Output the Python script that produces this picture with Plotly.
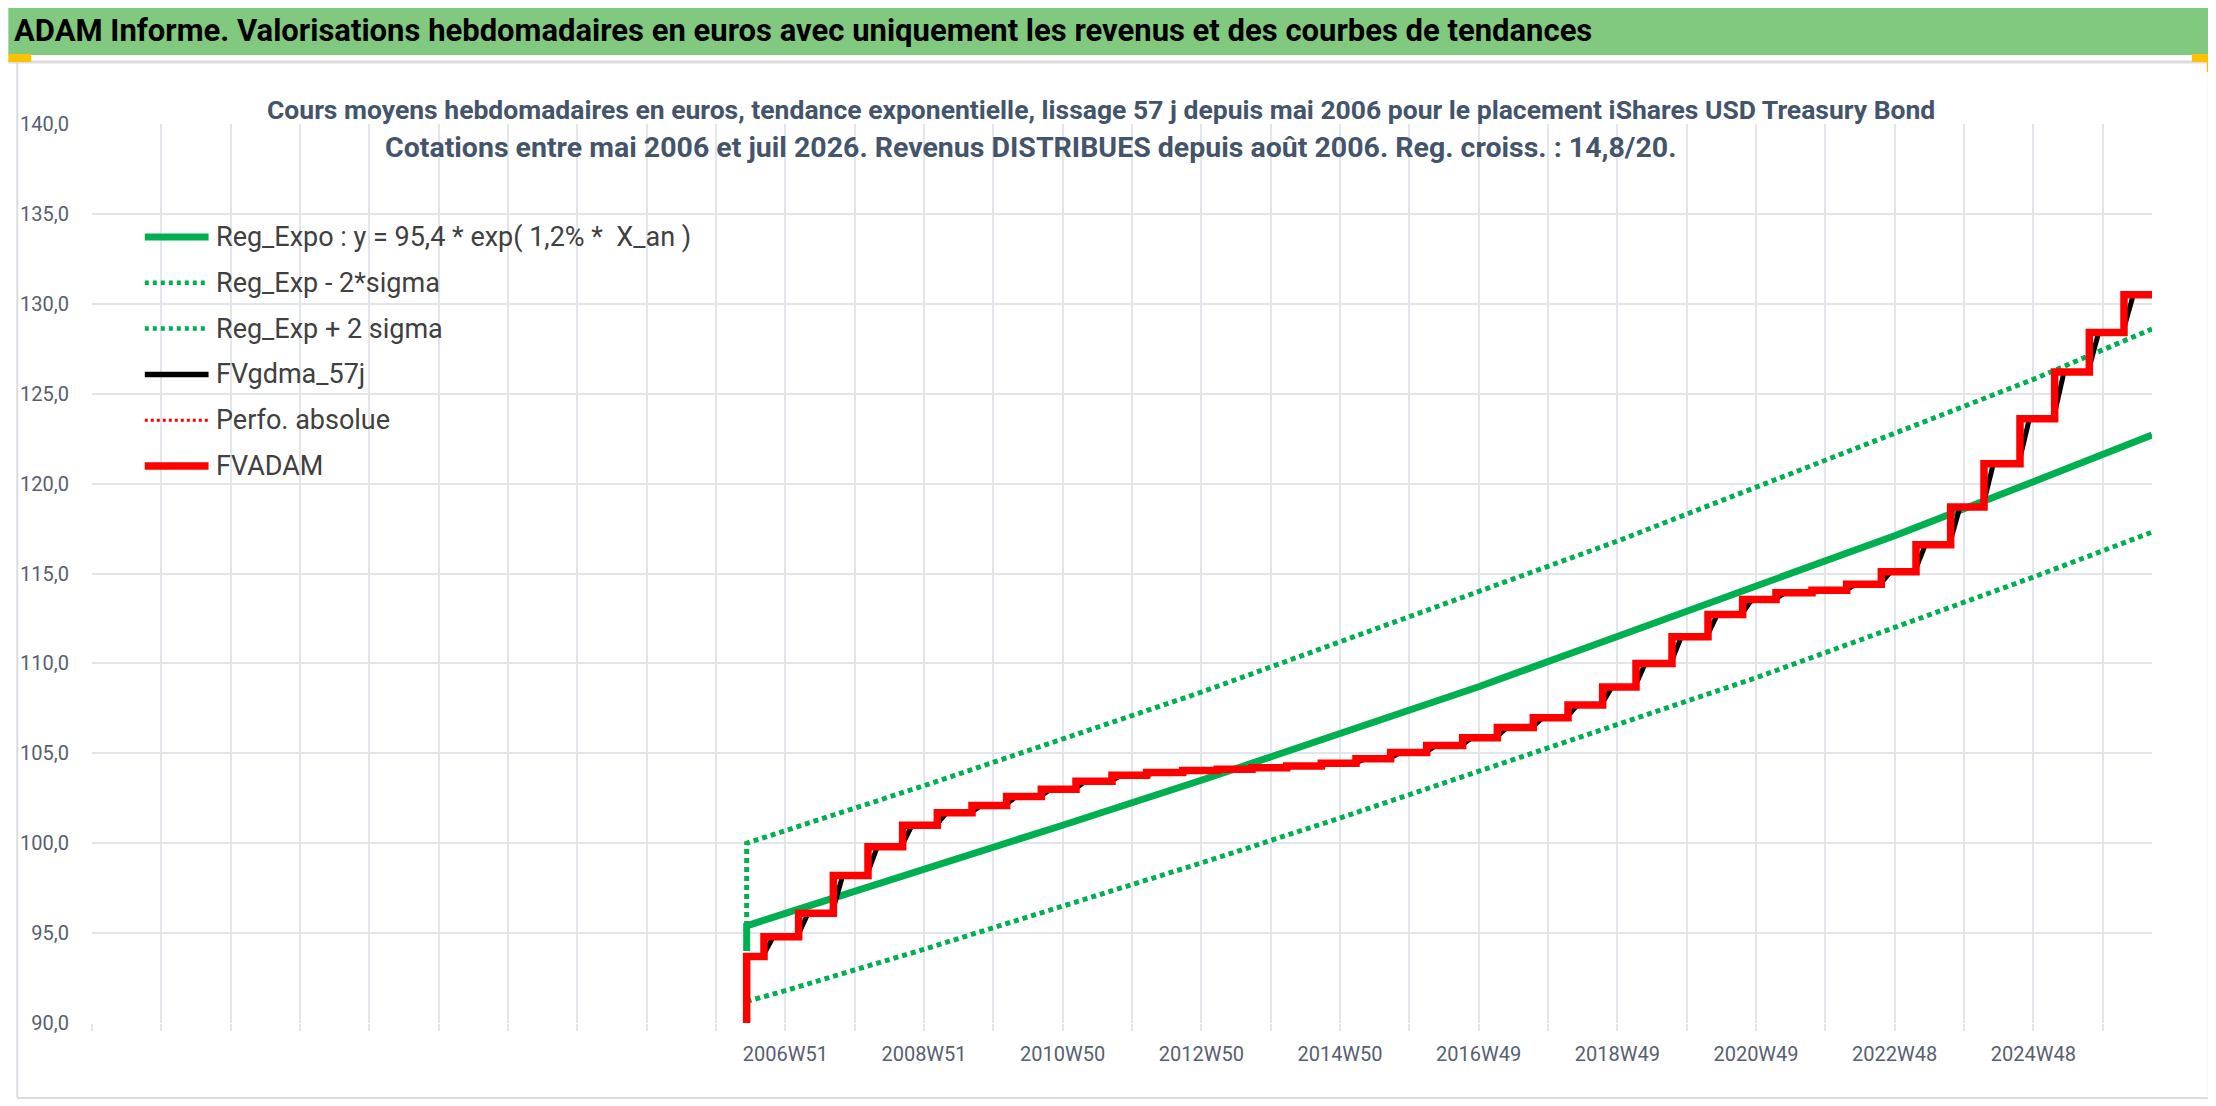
import numpy as np
import pandas as pd
import plotly.graph_objects as go

# --- données (x = index de semaine depuis le bord gauche de l'axe) ---
debut = 491
fin = 1545
fvadam_depart = 93.7
versements = [504, 530, 556, 582, 608, 634, 660, 686, 712, 738,
              765, 791, 818, 844, 870, 896, 922, 948, 974, 1001,
              1028, 1054, 1081, 1107, 1133, 1158, 1185, 1212, 1238, 1263,
              1290, 1316, 1342, 1368, 1394, 1419, 1446, 1472, 1498, 1524]
fvadam = [94.8, 96.1, 98.2, 99.8, 101.0, 101.7, 102.1, 102.6, 103.0, 103.45,
          103.78, 103.93, 104.04, 104.11, 104.2, 104.3, 104.44, 104.7, 105.04, 105.44,
          105.87, 106.43, 106.98, 107.69, 108.69, 110.0, 111.48, 112.72, 113.56, 113.93,
          114.07, 114.4, 115.1, 116.6, 118.7, 121.1, 123.6, 126.2, 128.4, 130.5]

tendance_sem = [491, 491, 520, 624, 728, 832, 936, 1040, 1144, 1248, 1352, 1456, 1545]
reg_expo = [94.0, 95.4, 96.1, 98.5, 101.0, 103.5, 106.1, 108.7, 111.5, 114.3, 117.1, 120.1, 122.7]
reg_moins = [None, 91.2, 91.8, 94.1, 96.5, 98.9, 101.4, 104.0, 106.6, 109.2, 112.0, 114.8, 117.3]
reg_plus = [95.4, 100.0, 100.7, 103.2, 105.8, 108.4, 111.2, 114.0, 116.8, 119.8, 122.8, 125.8, 128.6]

etiquettes_x = ["2006W51", "2008W51", "2010W50", "2012W50", "2014W50",
                "2016W49", "2018W49", "2020W49", "2022W48", "2024W48"]
premiere_etiquette = 520

legende = ["Reg_Expo : y = 95,4 * exp( 1,2% *  X_an )", "Reg_Exp - 2*sigma", "Reg_Exp + 2 sigma",
           "FVgdma_57j", "Perfo. absolue", "FVADAM"]

titre = "ADAM Informe. Valorisations hebdomadaires en euros avec uniquement les revenus et des courbes de tendances"
sous_titre_1 = "Cours moyens hebdomadaires en euros, tendance exponentielle, lissage 57 j depuis mai 2006 pour le placement iShares USD Treasury Bond"
sous_titre_2 = "Cotations entre mai 2006 et juil 2026. Revenus DISTRIBUES depuis août 2006. Reg. croiss. : 14,8/20."

# --- séries dérivées ---
semaines = np.arange(debut, fin + 1)
niveaux = np.array([fvadam_depart] + fvadam)
fv_hebdo = niveaux[np.searchsorted(versements, semaines, side="right")]
fv_lisse = pd.Series(fv_hebdo).rolling(8, min_periods=1).mean()

VERT = "#00B050"
ROUGE = "#FF0000"
GRILLE = "#E2E5EA"
TXT = "#566070"
POLICE = "Roboto, sans-serif"

# la page a une marge de 8 px : la figure est décalée d'autant
DEC = 8
W, H = 2216 - DEC, 1106 - DEC
ML, MR, MT, MB = 84 - DEC, 64, 124 - DEC, 83
PW, PH = W - ML - MR, H - MT - MB


def fx(p):
    return (p - DEC - ML) / PW


def fy(p):
    return (H + DEC - MB - p) / PH


POINTS = "5px,4px"

fig = go.Figure()
fig.add_trace(go.Scatter(x=tendance_sem, y=reg_expo, mode="lines", name=legende[0],
                         line=dict(color=VERT, width=7)))
fig.add_trace(go.Scatter(x=tendance_sem, y=reg_moins, mode="lines", name=legende[1],
                         line=dict(color=VERT, width=5, dash=POINTS)))
fig.add_trace(go.Scatter(x=tendance_sem, y=reg_plus, mode="lines", name=legende[2],
                         line=dict(color=VERT, width=5, dash=POINTS)))
fig.add_trace(go.Scatter(x=semaines, y=fv_lisse, mode="lines", name=legende[3],
                         line=dict(color="black", width=5, shape="spline", smoothing=0.6)))
fig.add_trace(go.Scatter(x=[debut, debut] + versements + [fin],
                         y=[0, fvadam_depart] + fvadam + [fvadam[-1]],
                         mode="lines", name=legende[5], line_shape="hv",
                         line=dict(color=ROUGE, width=7.5)))

fig.update_layout(
    width=W, height=H,
    margin=dict(l=ML, r=MR, t=MT, b=MB),
    paper_bgcolor="white", plot_bgcolor="white",
    showlegend=False,
    separators=", ",
    font=dict(family=POLICE, color=TXT),
)
fig.update_xaxes(
    range=[0, fin],
    tickvals=[premiere_etiquette + 104 * i for i in range(len(etiquettes_x))],
    ticktext=etiquettes_x,
    showgrid=True, gridcolor=GRILLE, gridwidth=2,
    ticks="outside", ticklen=7, tickwidth=2, tickcolor=GRILLE,
    minor=dict(tick0=0, dtick=52, showgrid=True, gridcolor=GRILLE, gridwidth=2,
               ticks="outside", ticklen=7, tickwidth=2, tickcolor=GRILLE),
    zeroline=False, showline=False,
    tickfont=dict(size=20, color=TXT),
    ticklabelstandoff=6,
)
fig.update_yaxes(
    range=[90, 140], dtick=5, tickformat=".1f",
    showgrid=True, gridcolor=GRILLE, gridwidth=2,
    zeroline=False, showline=False, ticks="",
    tickfont=dict(size=20, color=TXT),
    ticklabelstandoff=22,
)

# cadre, bandeau titre
formes = [
    dict(type="rect", x0=fx(0), x1=fx(2216), y0=fy(0), y1=fy(2), fillcolor="#9E9E9E", line_width=0),
    dict(type="rect", x0=fx(0), x1=fx(2211), y0=fy(3), y1=fy(55), fillcolor="#80C97F", line_width=0),
    dict(type="line", x0=fx(0), x1=fx(2216), y0=fy(62), y1=fy(62), line=dict(color="#DADCE0", width=3)),
    dict(type="line", x0=fx(9), x1=fx(9), y0=fy(62), y1=fy(1098), line=dict(color="#DADCE0", width=2)),
    dict(type="line", x0=fx(2209), x1=fx(2209), y0=fy(62), y1=fy(1098), line=dict(color="#DADCE0", width=2)),
    dict(type="line", x0=fx(9), x1=fx(2209), y0=fy(1098), y1=fy(1098), line=dict(color="#DADCE0", width=2)),
    dict(type="rect", x0=fx(0), x1=fx(23), y0=fy(54), y1=fy(62), fillcolor="#FFC000", line_width=0),
    dict(type="rect", x0=fx(2192), x1=fx(2216), y0=fy(54), y1=fy(62), fillcolor="#FFC000", line_width=0),
    dict(type="rect", x0=fx(2207), x1=fx(2216), y0=fy(54), y1=fy(72), fillcolor="#FFC000", line_width=0),
]

# légende dessinée à la main
styles = [(VERT, 7, "solid"), (VERT, 4.5, "4px,4px"), (VERT, 4.5, "4px,4px"),
          ("black", 5.5, "solid"), (ROUGE, 3, "3px,3px"), (ROUGE, 7.5, "solid")]
annots = []
for i, (txt, (col, lw, ds)) in enumerate(zip(legende, styles)):
    yy = 237 + i * 45.8
    formes.append(dict(type="line", x0=fx(137), x1=fx(201), y0=fy(yy), y1=fy(yy),
                       line=dict(color=col, width=lw, dash=ds)))
    annots.append(dict(x=fx(206), y=fy(yy), text=txt, showarrow=False, xanchor="left",
                       yanchor="middle", font=dict(size=27, color="#404040")))

annots += [
    dict(x=fx(4), y=fy(30), text="<b>" + titre + "</b>", showarrow=False, xanchor="left",
         yanchor="middle", font=dict(size=31, color="black")),
    dict(x=fx(1097), y=fy(110), text="<b>" + sous_titre_1 + "</b>", showarrow=False,
         xanchor="center", yanchor="middle", font=dict(size=26.5, color="#44546A")),
    dict(x=fx(1026), y=fy(148), text="<b>" + sous_titre_2 + "</b>", showarrow=False,
         xanchor="center", yanchor="middle", font=dict(size=28.5, color="#44546A")),
]
for a in annots:
    a["xref"] = "paper"
    a["yref"] = "paper"
for s in formes:
    s["xref"] = "paper"
    s["yref"] = "paper"
    s["layer"] = "above"
formes[1]["layer"] = "below"

fig.update_layout(shapes=formes, annotations=annots)

fig.write_html("out.html")
